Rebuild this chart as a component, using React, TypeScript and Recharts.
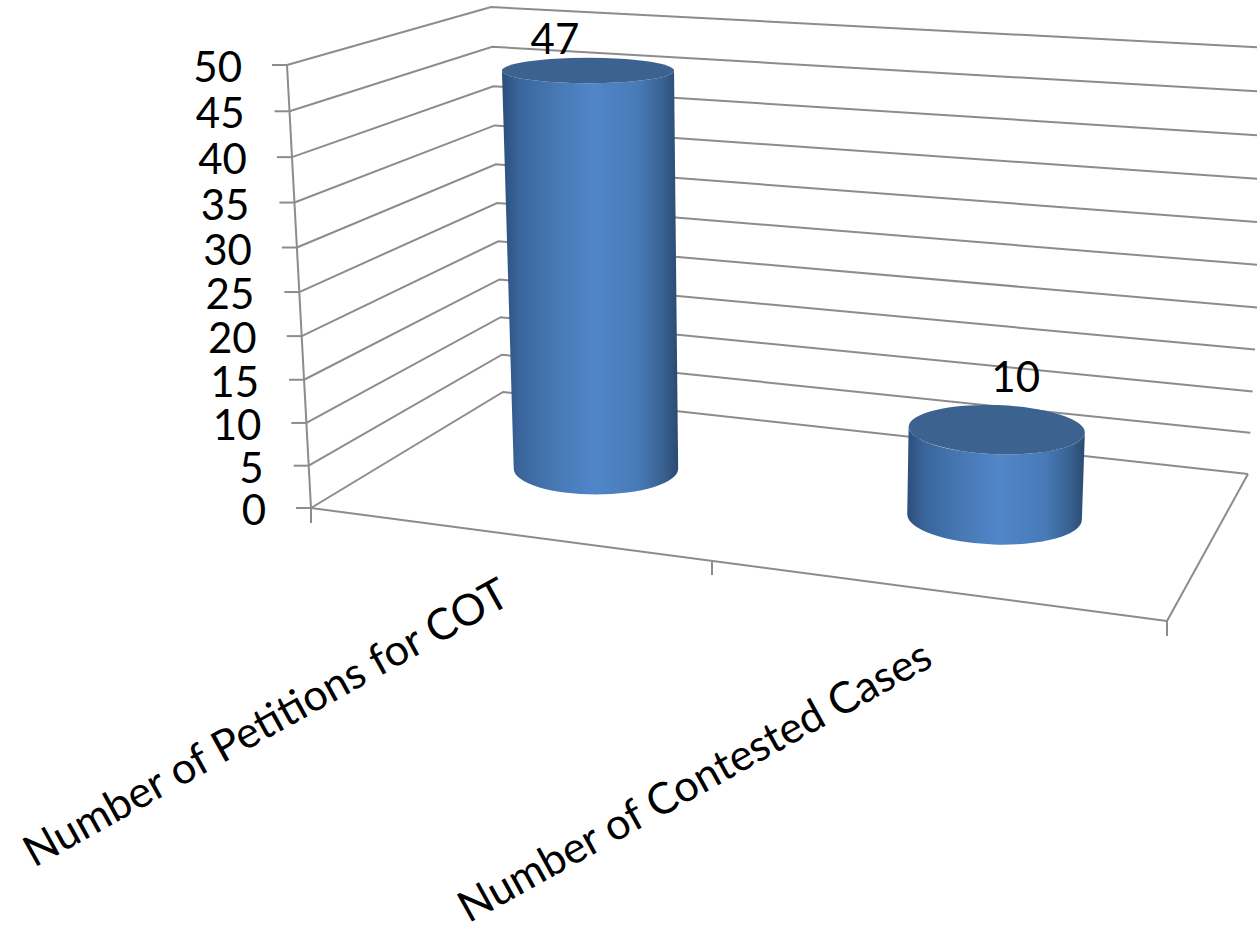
import React from 'react';
import { BarChart, Bar, XAxis, YAxis, CartesianGrid } from 'recharts';

const categories = ['Number of Petitions for COT', 'Number of Contested Cases'];
const petitionValues = [47, 10];
const yTicks = [0, 5, 10, 15, 20, 25, 30, 35, 40, 45, 50];

const chartData = categories.map((name, i) => ({ name, value: petitionValues[i] }));

const WIDTH = 1257;
const HEIGHT = 927;
const PLOT_LEFT = 311;
const PLOT_RIGHT = 1167;
const PLOT_TOP = 65;
const PLOT_BOTTOM = 508;
const FONT = 'Lato, "Open Sans", sans-serif';
const LINE = '#8c8c8c';

// corners of the 3D box: floor position, height and lean at value 50, bow of the perspective
const FL = { x: 311, y: 508, h: 443, lean: -24, k: 0.05 };
const FR = { x: 1167, y: 621, h: 512, lean: 20, k: 0.045 };
const BL = { x: 503, y: 392, h: 385, lean: -12, k: 0.036 };
const BR = { x: 1248, y: 474, h: 426, lean: 24, k: 0.038 };

const cornerAt = (c: typeof FL, t: number) => {
  const w = t - c.k * t * (1 - t);
  return { x: c.x + c.lean * w, y: c.y - c.h * w };
};

const lerp = (a: number, b: number, f: number) => a + (b - a) * f;

// u along the category axis, d into the depth, t share of the value axis
const project = (u: number, d: number, t: number) => {
  const fl = cornerAt(FL, t);
  const fr = cornerAt(FR, t);
  const bl = cornerAt(BL, t);
  const br = cornerAt(BR, t);
  return {
    x: lerp(lerp(fl.x, fr.x, u), lerp(bl.x, br.x, u), d),
    y: lerp(lerp(fl.y, fr.y, u), lerp(bl.y, br.y, u), d),
  };
};

const toT = (y: number) => (PLOT_BOTTOM - y) / (PLOT_BOTTOM - PLOT_TOP);
const toU = (x: number) => (x - PLOT_LEFT) / (PLOT_RIGHT - PLOT_LEFT);

const GridLine = (props: any) => {
  const t = toT(props.y1);
  const a = cornerAt(FL, t);
  const b = cornerAt(BL, t);
  const c = cornerAt(BR, t);
  return (
    <polyline
      key={props.key}
      points={`${a.x},${a.y} ${b.x},${b.y} ${c.x},${c.y}`}
      fill="none"
      stroke={LINE}
      strokeWidth={2}
    />
  );
};

const YTick = ({ y, payload }: any) => {
  const p = cornerAt(FL, toT(y));
  return (
    <g>
      <line x1={p.x - 15} y1={p.y} x2={p.x} y2={p.y} stroke={LINE} strokeWidth={2} />
      <text x={p.x - 45} y={p.y + 17} textAnchor="end" fontFamily={FONT} fontSize={42} fill="#000">
        {payload.value}
      </text>
    </g>
  );
};

const XTick = ({ x, payload }: any) => {
  const px = 512 + (x - 525) * 0.988;
  const py = 603 + (x - 525) * 0.145;
  return (
    <text
      x={px}
      y={py}
      textAnchor="end"
      fontFamily={FONT}
      fontSize={43.3}
      fill="#000"
      transform={`rotate(-29 ${px} ${py})`}
    >
      {payload.value}
    </text>
  );
};

const ellipseRy = (y: number) => 10.4 + 0.033 * y;

const Cylinder = (props: any) => {
  const { x, y, width, height, index, value } = props;
  const u = toU(x + width / 2) - 0.02;
  const hw = toU(x + width) - toU(x + width / 2);
  const d = 0.53;
  const tTop = toT(y);
  const tBase = toT(y + height);
  const top = project(u, d, tTop);
  const base = project(u, d, tBase);
  // the bar nearer the viewer reads a little wider
  const near = 0.97 + 0.12 * (u - 0.23);
  const rxTop = (near * (project(u + hw, d, tTop).x - project(u - hw, d, tTop).x)) / 2;
  const rxBase = (near * (project(u + hw, d, tBase).x - project(u - hw, d, tBase).x)) / 2;
  const ryTop = ellipseRy(top.y);
  const ryBase = ellipseRy(base.y);
  const tilt = Math.round((u - 0.23) * 400) / 100;
  const dropTop = Math.sin((tilt * Math.PI) / 180) * rxTop;
  const dropBase = Math.sin((tilt * Math.PI) / 180) * rxBase;
  const id = `cyl-side-${index}`;
  const side = [
    `M${top.x - rxTop},${top.y - dropTop}`,
    `L${base.x - rxBase},${base.y - dropBase}`,
    `A${rxBase},${ryBase} ${tilt} 0 0 ${base.x + rxBase},${base.y + dropBase}`,
    `L${top.x + rxTop},${top.y + dropTop}`,
    `A${rxTop},${ryTop} ${tilt} 0 1 ${top.x - rxTop},${top.y - dropTop}`,
    'Z',
  ].join(' ');
  return (
    <g>
      <defs>
        <linearGradient id={id} x1="0" y1="0" x2="1" y2="0">
          <stop offset="0%" stopColor="#2c4f7c" />
          <stop offset="10%" stopColor="#3a659c" />
          <stop offset="30%" stopColor="#4778b4" />
          <stop offset="52%" stopColor="#5186ca" />
          <stop offset="78%" stopColor="#477ab6" />
          <stop offset="92%" stopColor="#38608f" />
          <stop offset="100%" stopColor="#2b4a70" />
        </linearGradient>
      </defs>
      <path d={side} fill={`url(#${id})`} />
      <ellipse
        cx={top.x}
        cy={top.y}
        rx={rxTop}
        ry={ryTop}
        fill="#3c638f"
        transform={`rotate(${tilt} ${top.x} ${top.y})`}
      />
      <text
        x={top.x + 104 * (u - 0.23) - 33}
        y={top.y - 42 * u - 7.3}
        textAnchor="middle"
        fontFamily={FONT}
        fontSize={42}
        fill="#000"
      >
        {value}
      </text>
    </g>
  );
};

const Frame = () => {
  const edges = [
    [311, 508, 311, 523],
    [712, 562, 712, 575],
    [1167, 621, 1167, 636],
    [311, 508, 1167, 621],
    [1167, 621, 1248, 474],
    [311, 508, 287, 65],
  ];
  return (
    <g>
      {edges.map((e, i) => (
        <line key={i} x1={e[0]} y1={e[1]} x2={e[2]} y2={e[3]} stroke={LINE} strokeWidth={2} />
      ))}
    </g>
  );
};

export default function App() {
  return (
    <div style={{ position: 'absolute', left: 0, top: 0, width: WIDTH, height: HEIGHT, overflow: 'hidden', background: '#fff' }}>
      <BarChart
        width={WIDTH}
        height={HEIGHT}
        data={chartData}
        barCategoryGap="28.7%"
        margin={{ top: PLOT_TOP, right: WIDTH - PLOT_RIGHT, bottom: HEIGHT - PLOT_BOTTOM - 60, left: PLOT_LEFT - 60 }}
      >
        <CartesianGrid vertical={false} horizontal={(p: any) => <GridLine {...p} />} />
        <XAxis dataKey="name" height={60} interval={0} axisLine={false} tickLine={false} tick={<XTick />} />
        <YAxis
          width={60}
          domain={[0, 50]}
          ticks={yTicks}
          interval={0}
          axisLine={false}
          tickLine={false}
          tick={<YTick />}
        />
        <Frame />
        <Bar dataKey="value" isAnimationActive={false} shape={<Cylinder />} />
      </BarChart>
    </div>
  );
}
